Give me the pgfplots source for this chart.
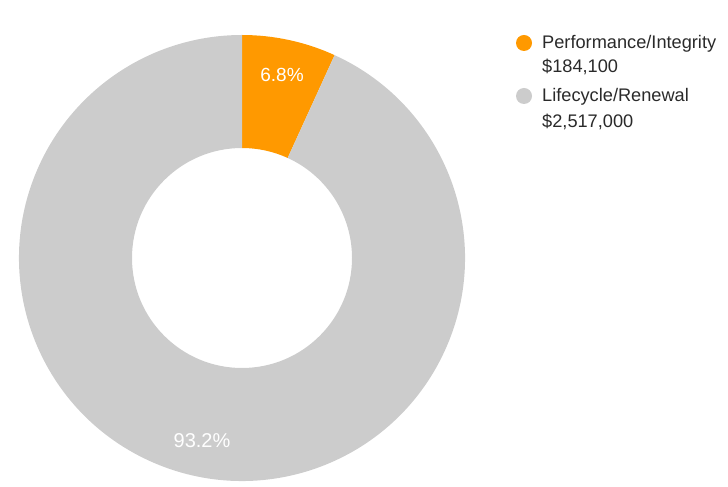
\documentclass[border=0pt]{standalone}
\usepackage{pgfplots}
\pgfplotsset{compat=1.18}
\usepackage{fontspec}
\setmainfont{Liberation Sans}
\definecolor{sliceA}{HTML}{FF9900}
\definecolor{sliceB}{HTML}{CCCCCC}
\definecolor{txt}{HTML}{2A2A2A}
\begin{document}
\begin{tikzpicture}
\useasboundingbox (0,0) rectangle (728pt,487pt);
% values in thousands of dollars
\def\valA{184.1}
\def\valB{2517.0}
\pgfmathsetmacro\total{\valA+\valB}
\pgfmathsetmacro\frac{\valA/\total}
\pgfmathsetmacro\angA{360*\frac}
\pgfmathsetmacro\endA{90-\angA}
\def\cx{242}\def\cy{229}\def\Ro{223}\def\Ri{110}
\begin{axis}[x=1pt,y=1pt,xmin=0,xmax=728,ymin=0,ymax=487,hide axis,clip=false,
  scale only axis,anchor=origin,at={(0,0)}]
\fill[sliceA] (axis cs:{\cx},{\cy+\Ro}) arc[start angle=90,end angle=\endA,radius=\Ro pt]
  -- (axis cs:{\cx+\Ri*cos(\endA)},{\cy+\Ri*sin(\endA)}) arc[start angle=\endA,end angle=90,radius=\Ri pt] -- cycle;
\fill[sliceB] (axis cs:{\cx+\Ro*cos(\endA)},{\cy+\Ro*sin(\endA)}) arc[start angle=\endA,end angle=-270,radius=\Ro pt]
  -- (axis cs:{\cx},{\cy+\Ri}) arc[start angle=-270,end angle=\endA,radius=\Ri pt] -- cycle;
\node[white,font=\fontsize{19}{22}\selectfont] at (axis cs:282,412) {6.8\%};
\node[white,font=\fontsize{20}{24}\selectfont] at (axis cs:202,46) {93.2\%};
% legend
\fill[sliceA] (axis cs:524,444) circle[radius=8pt];
\fill[sliceB] (axis cs:524,391) circle[radius=8pt];
\begin{scope}[every node/.style={anchor=base west,inner sep=0pt,text=txt,font=\fontsize{18.2}{21}\selectfont}]
\node at (axis cs:542,438) {Performance/Integrity};
\node at (axis cs:542,414) {\$184,100};
\node at (axis cs:542,385) {Lifecycle/Renewal};
\node at (axis cs:542,359) {\$2,517,000};
\end{scope}
\end{axis}
\end{tikzpicture}
\end{document}
